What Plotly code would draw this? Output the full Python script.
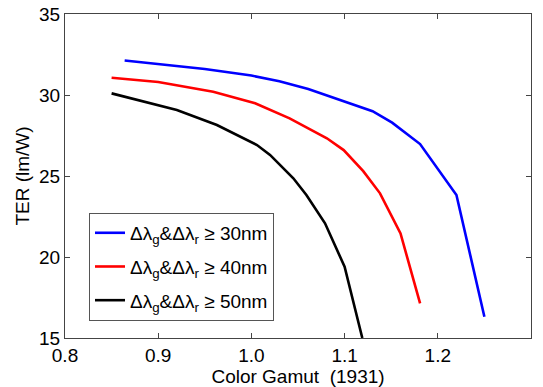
import plotly.graph_objects as go

# Data
blue_x = [0.864, 0.90, 0.95, 1.00, 1.03, 1.061, 1.10, 1.13, 1.151, 1.181, 1.220, 1.250]
blue_y = [32.13, 31.92, 31.60, 31.20, 30.85, 30.37, 29.60, 29.00, 28.29, 26.97, 23.83, 16.31]

red_x = [0.850, 0.90, 0.959, 1.004, 1.041, 1.081, 1.099, 1.120, 1.138, 1.160, 1.181]
red_y = [31.07, 30.80, 30.20, 29.49, 28.56, 27.33, 26.60, 25.30, 23.93, 21.45, 17.14]

black_x = [0.850, 0.880, 0.920, 0.963, 1.006, 1.020, 1.045, 1.059, 1.079, 1.100, 1.119]
black_y = [30.10, 29.65, 29.07, 28.15, 26.91, 26.30, 24.86, 23.83, 22.08, 19.40, 15.00]

names = [
    "Δλ<sub>g</sub>&Δλ<sub>r</sub> ≥ 30nm",
    "Δλ<sub>g</sub>&Δλ<sub>r</sub> ≥ 40nm",
    "Δλ<sub>g</sub>&Δλ<sub>r</sub> ≥ 50nm",
]
colors = ["#0000FF", "#FF0000", "#000000"]

FONT = "Liberation Sans, Arial, Helvetica, sans-serif"
FS = 19

fig = go.Figure()
for i, (xs, ys, nm, c) in enumerate(zip([blue_x, red_x, black_x], [blue_y, red_y, black_y], names, colors)):
    fig.add_trace(go.Scatter(x=xs, y=ys, mode="lines", name=nm, legendgroup=f"g{i}",
                             line=dict(color=c, width=2.6), cliponaxis=True))

axis_common = dict(showline=True, linecolor="#444", linewidth=1, mirror="ticks",
                   ticks="inside", ticklen=5, tickcolor="#444", showgrid=False,
                   zeroline=False, automargin=False,
                   tickfont=dict(family=FONT, size=FS, color="#000"))

fig.update_xaxes(range=[0.8, 1.3], dtick=0.1, tick0=0.8, tickformat=".1f",
                 title=dict(text="Color Gamut  (1931)", font=dict(family=FONT, size=FS, color="#000"), standoff=2),
                 **axis_common)
fig.update_yaxes(range=[15, 35], dtick=5, tick0=15,
                 title=dict(text="TER (lm/W)", font=dict(family=FONT, size=FS, color="#000"), standoff=4),
                 **axis_common)

fig.update_layout(
    width=543, height=387,
    margin=dict(l=65, r=12, t=14, b=49),
    paper_bgcolor="white", plot_bgcolor="white",
    font=dict(family=FONT, size=FS, color="#000"),
    legend=dict(x=0.0515, y=0.386, xanchor="left", yanchor="top",
                bgcolor="white", bordercolor="#555", borderwidth=1,
                tracegroupgap=6,
                font=dict(family=FONT, size=FS, color="#000")),
    showlegend=True,
)

fig.write_html("out.html")
